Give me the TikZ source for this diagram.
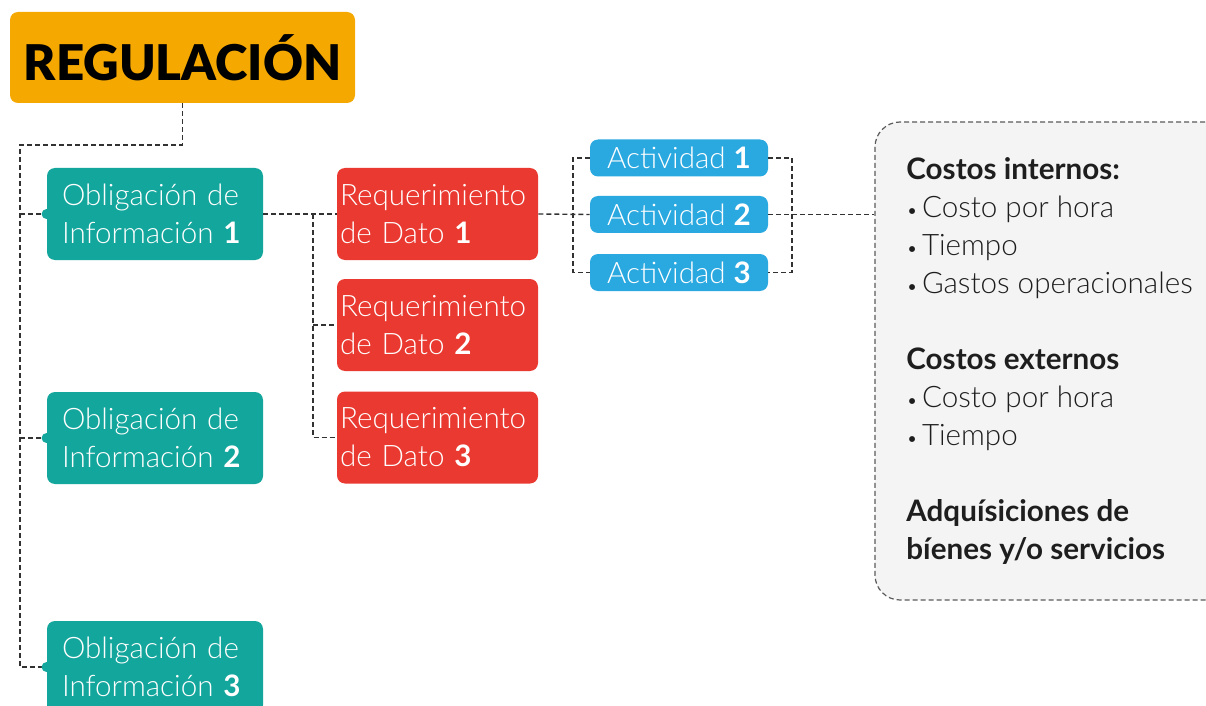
\documentclass[tikz,border=0pt]{standalone}
\usepackage{fontspec}
\setmainfont{Lato Light}[BoldFont=Lato Bold]
\newfontfamily\negra{Lato Black}
\usepackage{xcolor}
\usepackage{tikz}
\definecolor{naranja}{RGB}{245,168,0}
\definecolor{verde}{RGB}{19,166,156}
\definecolor{rojo}{RGB}{234,57,48}
\definecolor{azul}{RGB}{42,168,224}
\definecolor{gris}{RGB}{244,244,244}
\definecolor{linea}{RGB}{50,50,50}
\definecolor{texto}{RGB}{30,30,30}
\newcommand{\punto}{{\fontsize{10}{10}\selectfont\textbullet}\hspace{2pt}}

\begin{document}
\begin{tikzpicture}[x=0.5pt,y=-0.5pt,
    caja/.style={rounded corners=4pt, text=white, inner ysep=0pt, minimum height=46pt,
        font=\fontsize{14.8}{19}\selectfont},
    obl/.style={caja, fill=verde, align=left, text width=93pt, inner xsep=0pt, minimum width=108pt},
    req/.style={caja, fill=rojo, align=left, text width=97.5pt, inner xsep=0pt, minimum width=100.5pt},
    act/.style={caja, fill=azul, align=center, minimum width=89pt, minimum height=18.5pt, inner xsep=0pt},
    guion/.style={draw=linea, line width=0.7pt, dash pattern=on 2.5pt off 1.5pt}]
    \useasboundingbox (0,0) rectangle (1206,706);
    \clip (0,0) rectangle (1206,706);

    \node[fill=naranja, rounded corners=4pt, minimum width=172.5pt, minimum height=45.5pt,
        font=\fontsize{24.6}{26}\negra, text=black] (reg) at (182.5,57.5) {REGULACIÓN};

    \node[obl] (oi1) at (155,214) {Obligación de\\Información \textbf{1}};
    \node[obl] (oi2) at (155,438) {Obligación de\\Información \textbf{2}};
    \node[obl] (oi3) at (155,667) {Obligación de\\Información \textbf{3}};

    \node[req] (rd1) at (437.5,214) {Requerimiento\\de Dato \textbf{1}};
    \node[req] (rd2) at (437.5,325) {Requerimiento\\de Dato \textbf{2}};
    \node[req] (rd3) at (437.5,437.5) {Requerimiento\\de Dato \textbf{3}};

    \node[act] (act1) at (679,158) {Actividad \textbf{1}};
    \node[act] (act2) at (679,214.5) {Actividad \textbf{2}};
    \node[act] (act3) at (679,272.5) {Actividad \textbf{3}};

    \node[draw=linea!80, fill=gris, line width=0.6pt, dash pattern=on 2.5pt off 1.5pt, rounded corners=12.5pt,
        minimum width=177.5pt, minimum height=239pt] (costos) at (1052.5,361) {};
    \node[anchor=north west, align=left, inner sep=0pt, text=texto,
        font=\fontsize{14.8}{19}\selectfont] (lista) at (906,157)
        {\textbf{Costos internos:}\\
         \punto Costo por hora\\
         \punto Tiempo\\
         \punto Gastos operacionales\\[19pt]
         \textbf{Costos externos}\\
         \punto Costo por hora\\
         \punto Tiempo\\[19pt]
         \textbf{Adquísiciones de}\\
         \textbf{bíenes y/o servicios}};

    \coordinate (tronco) at (20,145);
    \coordinate (rama) at (313,214);
    \coordinate (izq) at (573,214);
    \coordinate (der) at (792,214);

    \draw[guion] (reg.south) |- (tronco) |- (oi3.west);
    \draw[guion] (oi1.west -| tronco) -- (oi1.west);
    \draw[guion] (oi2.west -| tronco) -- (oi2.west);
    \foreach \n in {oi1,oi2,oi3}
        \fill[verde] (\n.west) circle (2.5pt);

    \draw[guion] (oi1.east) -- (rd1.west);
    \draw[guion] (rama) |- (rd3.west);
    \draw[guion] (rama |- rd2.west) -- (rd2.west);

    \draw[guion] (rd1.east) -- (act2.west);
    \draw[guion] (act1.west) -- (act1.west -| izq) -- (act3.west -| izq) -- (act3.west);
    \draw[guion] (act1.east) -- (act1.east -| der) -- (act3.east -| der) -- (act3.east);
    \draw[guion] (act2.east) -- (act2.east -| costos.west);
\end{tikzpicture}
\end{document}
